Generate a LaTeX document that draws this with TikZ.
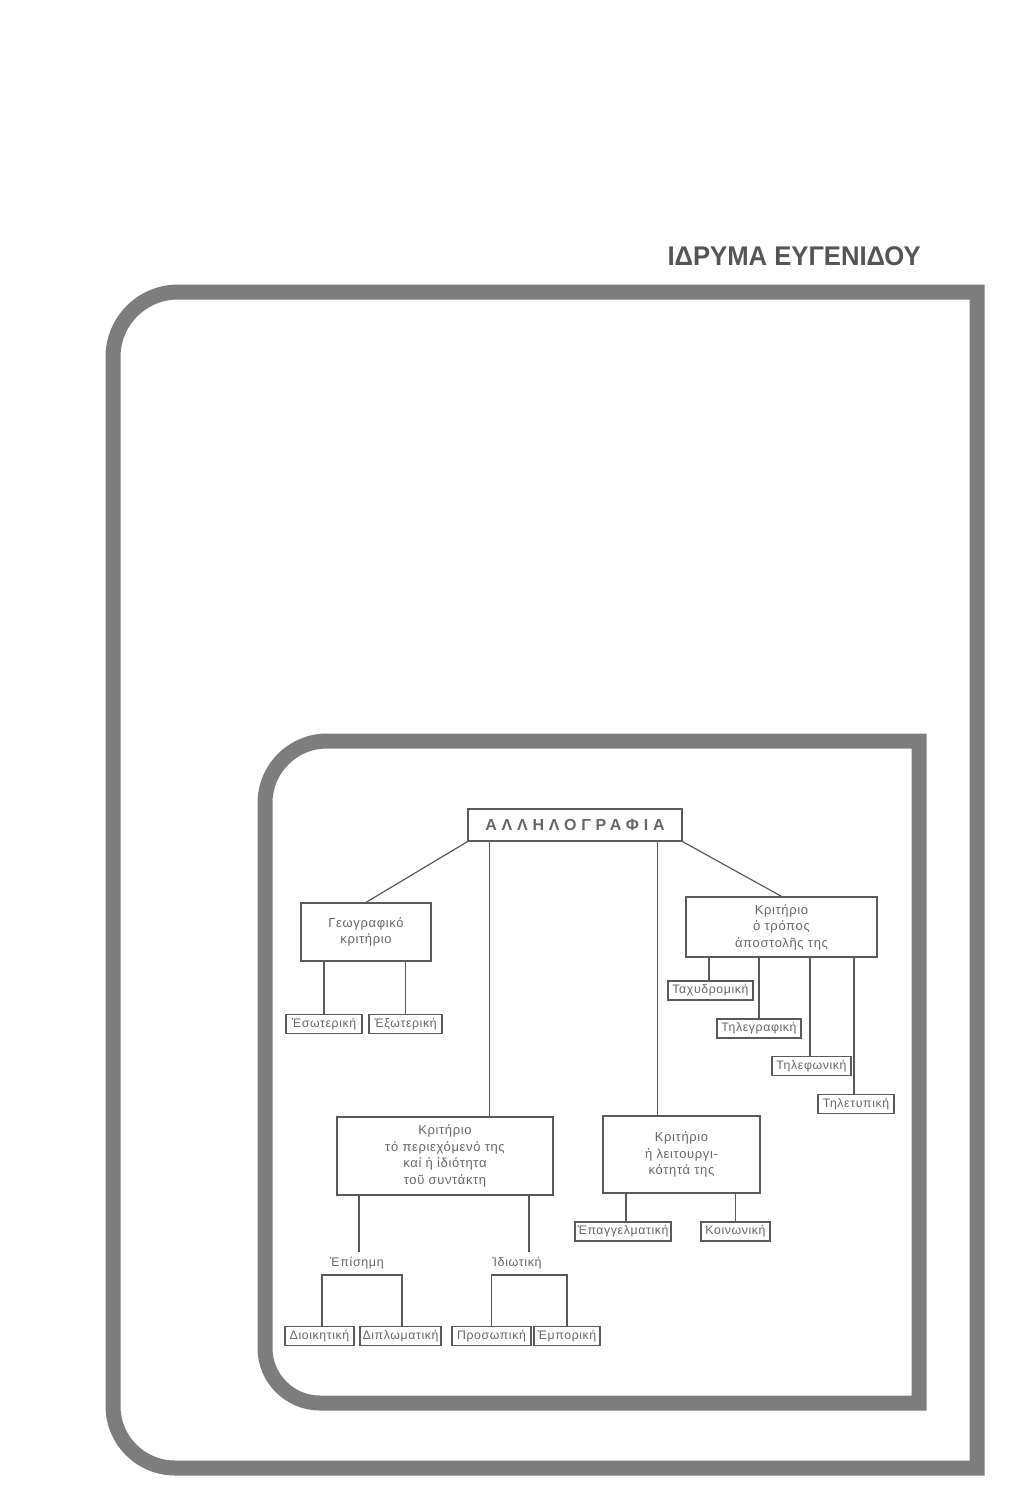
\documentclass[tikz,border=0pt]{standalone}
\usepackage{fontspec}
\setmainfont{Liberation Sans}
\newfontfamily\titlefont[LetterSpace=30]{Liberation Sans}
\newfontfamily\smallfont[LetterSpace=5]{Liberation Sans}
\usetikzlibrary{calc}
\definecolor{framec}{HTML}{7D7D7D}
\definecolor{linec}{HTML}{5A5A5A}
\definecolor{textc}{HTML}{666666}
\definecolor{headc}{HTML}{555555}
\tikzset{
  frame/.style={draw=framec, line width=15, line join=miter},
  conn/.style={draw=linec, line width=1.2},
  bigbox/.style={draw=linec, line width=1.3, inner sep=0, align=center, text=textc,
     font=\smallfont\fontsize{13}{16.5}\selectfont},
  leaf/.style={draw=linec, line width=1.2, inner sep=0, minimum height=19, text=textc,
     font=\smallfont\fontsize{12.3}{13}\selectfont},
  lbl/.style={inner sep=0, text=textc, font=\smallfont\fontsize{12.5}{14}\selectfont},
}
\begin{document}
\begin{tikzpicture}[x=1pt,y=-1pt]
\useasboundingbox (0,0) rectangle (1031,1500);
% header
\node[anchor=east, inner sep=0, text=headc, font=\bfseries\fontsize{27}{30}\selectfont] (head) at (921,256) {\scalebox{0.95}[1]{ΙΔΡΥΜΑ ΕΥΓΕΝΙΔΟΥ}};
% outer frame
\draw[frame] (977,1468) -- (977,292) -- (178,292)
  arc[start angle=-90, end angle=-180, radius=65] -- (113,1406)
  arc[start angle=180, end angle=90, radius=62] -- cycle;
% inner frame
\draw[frame] (919,1403) -- (919,741) -- (327,741)
  arc[start angle=-90, end angle=-180, radius=62] -- (265,1348)
  arc[start angle=180, end angle=90, radius=55] -- cycle;
% title
\node[draw=linec, line width=1.3, minimum width=214, minimum height=32, inner sep=0, text=textc,
  font=\titlefont\bfseries\fontsize{16}{18}\selectfont] (title) at (575,825) {ΑΛΛΗΛΟΓΡΑΦΙΑ};
% level 1 boxes
\node[bigbox, minimum width=130, minimum height=58] (geo) at (366,932) {Γεωγραφικό\\κριτήριο};
\node[bigbox, minimum width=191, minimum height=60] (apo) at (781.5,927) {Κριτήριο\\ὁ τρόπος\\ἀποστολῆς της};
\node[bigbox, minimum width=216, minimum height=78] (per) at (445,1156) {Κριτήριο\\τό περιεχόμενό της\\καί ἡ ἰδιότητα\\τοῦ συντάκτη};
\node[bigbox, minimum width=157, minimum height=77] (lei) at (681.5,1154.5) {Κριτήριο\\ἡ λειτουργι-\\κότητά της};
% leaves
\node[leaf, minimum width=76] (eso) at (324,1024) {Ἐσωτερική};
\node[leaf, minimum width=73] (exo) at (405.5,1024) {Ἐξωτερική};
\node[leaf, minimum width=85] (tax) at (710.5,990.5) {Ταχυδρομική};
\node[leaf, minimum width=84] (tgr) at (759,1028.5) {Τηλεγραφική};
\node[leaf, minimum width=79] (tph) at (811.5,1066) {Τηλεφωνική};
\node[leaf, minimum width=76] (ttp) at (856,1104) {Τηλετυπική};
\node[leaf, minimum width=96] (epa) at (623,1231.5) {Ἐπαγγελματική};
\node[leaf, minimum width=69] (koi) at (735.5,1231.5) {Κοινωνική};
\node[lbl] (epi) at (357,1263) {Ἐπίσημη};
\node[lbl] (idi) at (517,1263) {Ἰδιωτική};
\node[leaf, minimum width=69] (dio) at (319.5,1336) {Διοικητική};
\node[leaf, minimum width=81] (dip) at (400.5,1336) {Διπλωματική};
\node[leaf, minimum width=79] (pro) at (491.5,1336) {Προσωπική};
\node[leaf, minimum width=66] (emp) at (567,1336) {Ἐμπορική};
% connectors from title
\draw[conn] (title.south west) -- (geo.north);
\draw[conn] (title.south east) -- (apo.north);
\draw[conn] ([xshift=22]title.south west) -- ([xshift=22]title.south west |- per.north);
\draw[conn] ([xshift=-25]title.south east) -- ([xshift=-25]title.south east |- lei.north);
% geo
\draw[conn] (eso.north) -- (eso.north |- geo.south);
\draw[conn] (exo.north) -- (exo.north |- geo.south);
% apo
\draw[conn] ([xshift=-1.5]tax.north) -- ([xshift=-1.5]tax.north |- apo.south);
\draw[conn] (tgr.north) -- (tgr.north |- apo.south);
\draw[conn] ([xshift=-1.5]tph.north) -- ([xshift=-1.5]tph.north |- apo.south);
\draw[conn] ([xshift=-2]ttp.north) -- ([xshift=-2]ttp.north |- apo.south);
% lei
\draw[conn] ([xshift=3]epa.north) -- ([xshift=3]epa.north |- lei.south);
\draw[conn] (koi.north) -- (koi.north |- lei.south);
% per
\draw[conn] ([xshift=2,yshift=5]epi.north) -- ([xshift=2]epi.north |- per.south);
\draw[conn] ([xshift=12,yshift=5]idi.north) -- ([xshift=12]idi.north |- per.south);
% brackets
\coordinate (br) at (0,1275);
\draw[conn] ([xshift=2.5]dio.north) -- ([xshift=2.5]dio.north |- br) -- ([xshift=1.5]dip.north |- br) -- ([xshift=1.5]dip.north);
\draw[conn] (pro.north) -- (pro.north |- br) -- (emp.north |- br) -- (emp.north);
\end{tikzpicture}
\end{document}
